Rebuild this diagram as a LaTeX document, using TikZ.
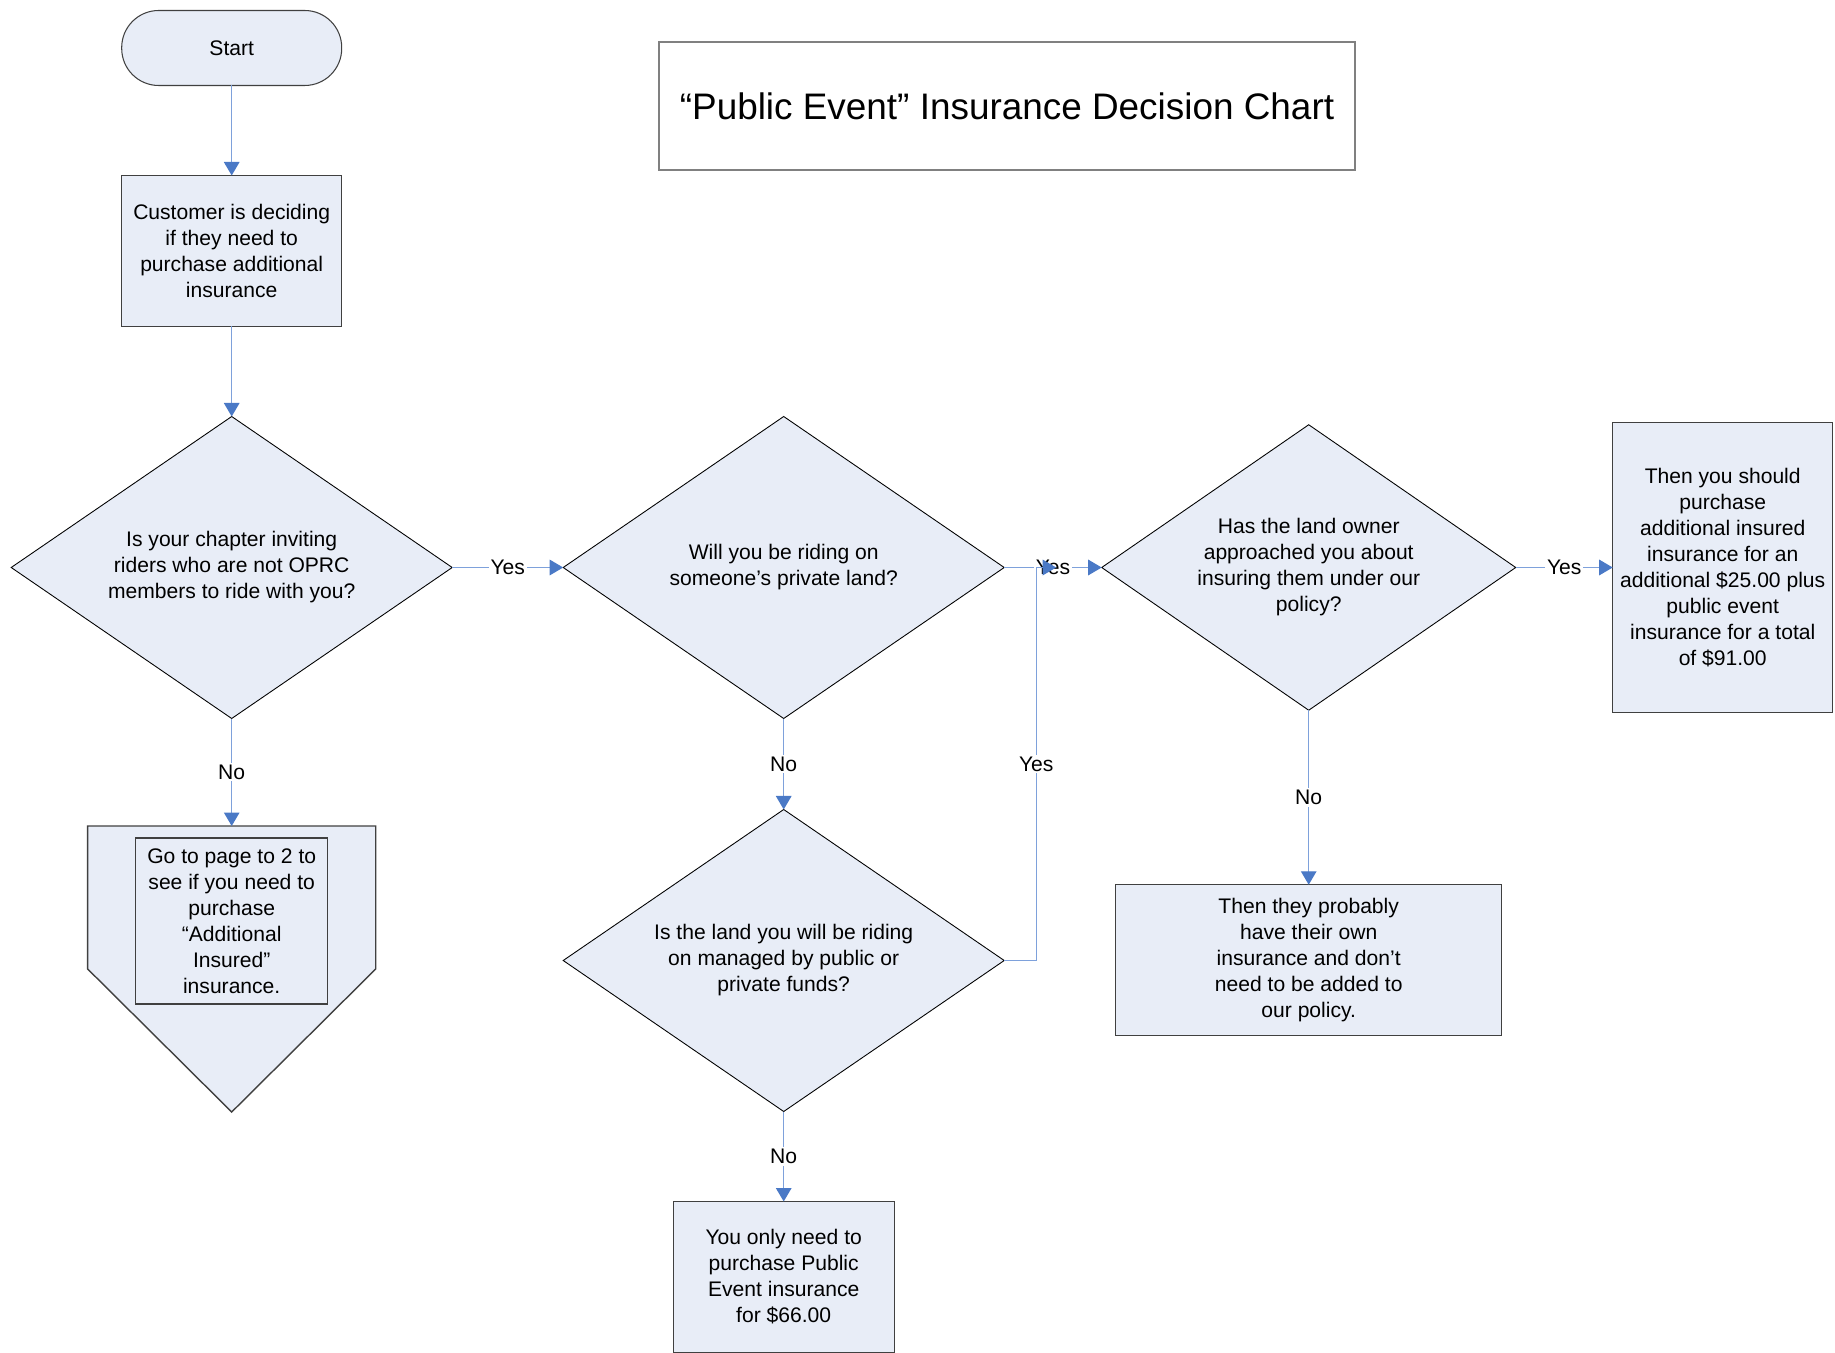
\documentclass[tikz,border=0pt]{standalone}
\usepackage{fontspec}
\setmainfont{Liberation Sans}
\usetikzlibrary{arrows.meta, positioning, shapes.geometric}

\definecolor{chartfill}{RGB}{232,237,247}
\definecolor{flowline}{RGB}{126,161,219}
\definecolor{flowhead}{RGB}{74,121,198}
\definecolor{edgegray}{RGB}{64,64,64}

\newcommand{\boxwidth}{4.4cm}
\newcommand{\boxheight}{3.02cm}

\tikzstyle{terminal} = [% start of the chart
  rectangle,
  rounded corners=0.74cm,
  minimum width=\boxwidth,
  minimum height=1.5cm,
  outer sep=0pt,
  text centered,
  draw=edgegray,
  line width=0.6pt,
  fill=chartfill
]
\tikzstyle{process} = [% statements and outcomes
  rectangle,
  minimum width=\boxwidth,
  minimum height=\boxheight,
  outer sep=0pt,
  align=center,
  draw=edgegray,
  line width=0.8pt,
  fill=chartfill
]
\tikzstyle{decision} = [% yes / no questions
  diamond,
  aspect=1.46,
  inner sep=0pt,
  outer sep=0pt,
  minimum width=8.82cm,
  minimum height=6.04cm,
  align=center,
  draw=black,
  line width=0.5pt,
  fill=chartfill
]
\tikzstyle{offpage} = [% off-page connector
  draw=edgegray,
  line width=0.8pt,
  fill=chartfill
]
\tikzstyle{heading} = [% chart title
  rectangle,
  minimum width=13.92cm,
  minimum height=2.56cm,
  draw=gray,
  line width=0.8pt,
  font=\fontsize{21}{25}\selectfont
]
\tikzstyle{arrow} = [% arrow format
  -{Triangle[length=0.27cm, width=0.31cm, color=flowhead]},
  draw=flowline,
  line width=0.8pt
]
\tikzstyle{answer} = [% yes / no labels
  fill=white,
  inner sep=1pt
]

\begin{document}
\begin{tikzpicture}[node distance=1.8cm, font=\fontsize{12}{14.8}\selectfont]
\useasboundingbox (0,0) rectangle (36.7,-27.06);

%%% Nodes
\node[terminal] (start) at (4.634,-0.96) {Start};
\node[process] (customer) [below=of start] {Customer is deciding\\if they need to\\purchase additional\\insurance};
\node[decision] (inviting) [below=of customer] {Is your chapter inviting\\riders who are not OPRC\\members to ride with you?};
\node[decision] (privateland) [right=2.22cm of inviting] {Will you be riding on\\someone’s private land?};
\node[decision, minimum width=8.28cm, minimum height=5.71cm] (landowner) [right=1.95cm of privateland] {Has the land owner\\approached you about\\insuring them under our\\policy?};
\node[process, minimum height=5.8cm] (extrainsured) [right=1.94cm of landowner] {Then you should\\purchase\\additional insured\\insurance for an\\additional \$25.00 plus\\public event\\insurance for a total\\of \$91.00};
\node[decision] (managed) [below=1.82cm of privateland] {Is the land you will be riding\\on managed by public or\\private funds?};
\node[process, minimum width=4.42cm] (publiconly) [below=of managed] {You only need to\\purchase Public\\Event insurance\\for \$66.00};
\node[process, minimum width=7.72cm] (ownpolicy) [below=3.49cm of landowner] {Then they probably\\have their own\\insurance and don’t\\need to be added to\\our policy.};

\node[heading] (title) at (20.14,-2.12) {“Public Event” Insurance Decision Chart};

%%% Off-page connector
\coordinate[below=2.15cm of inviting] (offpage);
\draw[offpage] (offpage) -- ++(2.88,0) -- ++(0,-2.86) -- ++(-2.88,-2.86) -- ++(-2.88,2.86) -- ++(0,2.86) -- cycle;
\node[process, minimum width=3.84cm, minimum height=3.32cm] (pagetwo) [below=0.24cm of offpage] {Go to page to 2 to\\see if you need to\\purchase\\“Additional\\Insured”\\insurance.};

\coordinate[right=1.04cm of privateland.east] (merge);

%%% Arrows
\draw[arrow] (start) -- (customer);
\draw[arrow] (customer) -- (inviting);
\draw[arrow] (inviting) -- node[answer] {Yes} (privateland);
\draw[arrow] (inviting) -- node[answer] {No} (offpage);
\draw[arrow] (privateland) -- node[answer] {Yes} (landowner);
\draw[arrow] (privateland) -- node[answer] {No} (managed);
\draw[arrow] (landowner) -- node[answer] {Yes} (extrainsured);
\draw[arrow] (landowner) -- node[answer] {No} (ownpolicy);
\draw[arrow] (managed) -- node[answer] {No} (publiconly);
\draw[arrow] (managed.east) -- ++(0.64,0) |- node[answer, pos=0.25] {Yes} (merge);

\end{tikzpicture}
\end{document}
